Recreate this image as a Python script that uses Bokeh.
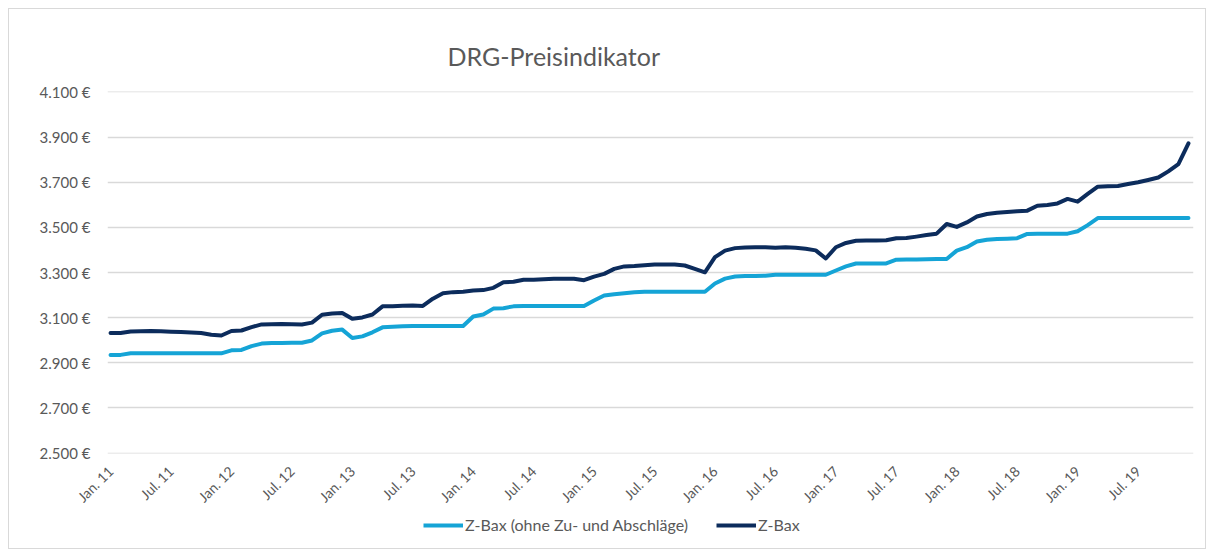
import numpy as np
from bokeh.plotting import figure
from bokeh.layouts import column
from bokeh.models import Range1d, FixedTicker, Legend, LegendItem
from bokeh.embed import file_html
from bokeh.resources import INLINE

# ---------------- data ----------------
title_text = "DRG-Preisindikator"
series_names = ["Z-Bax (ohne Zu- und Abschläge)", "Z-Bax"]

tick_labels = ["Jan. 11", "Jul. 11", "Jan. 12", "Jul. 12", "Jan. 13", "Jul. 13",
               "Jan. 14", "Jul. 14", "Jan. 15", "Jul. 15", "Jan. 16", "Jul. 16",
               "Jan. 17", "Jul. 17", "Jan. 18", "Jul. 18", "Jan. 19", "Jul. 19"]

y_ticks = [2500, 2700, 2900, 3100, 3300, 3500, 3700, 3900, 4100]
y_tick_labels = ["2.500 €", "2.700 €", "2.900 €", "3.100 €", "3.300 €",
                 "3.500 €", "3.700 €", "3.900 €", "4.100 €"]

# monthly values Jan 2011 .. Dec 2019
zbax_ohne = [
    2935, 2935, 2942, 2942, 2942, 2942, 2942, 2942, 2942, 2942, 2942, 2942,   # 2011
    2955, 2957, 2974, 2985, 2988, 2988, 2989, 2989, 2999, 3030, 3042, 3047,   # 2012
    3010, 3017, 3035, 3057, 3060, 3062, 3063, 3063, 3063, 3063, 3063, 3063,   # 2013
    3105, 3114, 3140, 3142, 3150, 3152, 3152, 3152, 3152, 3152, 3152, 3152,   # 2014
    3176, 3198, 3204, 3208, 3212, 3215, 3215, 3215, 3215, 3215, 3215, 3215,   # 2015
    3251, 3273, 3282, 3284, 3284, 3286, 3290, 3290, 3290, 3290, 3290, 3290,   # 2016
    3309, 3327, 3340, 3340, 3340, 3340, 3357, 3358, 3358, 3359, 3360, 3360,   # 2017
    3397, 3412, 3437, 3445, 3448, 3450, 3452, 3471, 3472, 3472, 3472, 3472,   # 2018
    3483, 3510, 3541, 3541, 3541, 3541, 3541, 3541, 3541, 3541, 3541, 3541,   # 2019
]

zbax = [
    3032, 3032, 3039, 3040, 3041, 3040, 3038, 3036, 3034, 3032, 3024, 3021,   # 2011
    3041, 3043, 3058, 3070, 3071, 3072, 3071, 3070, 3078, 3113, 3118, 3121,   # 2012
    3095, 3101, 3114, 3150, 3151, 3153, 3154, 3152, 3184, 3208, 3213, 3215,   # 2013
    3220, 3222, 3232, 3257, 3259, 3268, 3268, 3270, 3272, 3272, 3272, 3266,   # 2014
    3282, 3294, 3316, 3327, 3329, 3332, 3335, 3336, 3335, 3331, 3316, 3301,   # 2015
    3368, 3397, 3408, 3411, 3412, 3412, 3410, 3412, 3410, 3405, 3398, 3362,   # 2016
    3412, 3431, 3441, 3442, 3442, 3443, 3452, 3453, 3459, 3466, 3472, 3515,   # 2017
    3502, 3522, 3548, 3559, 3565, 3568, 3571, 3574, 3596, 3599, 3606, 3626,   # 2018
    3614, 3648, 3680, 3682, 3683, 3692, 3700, 3710, 3721, 3748, 3780, 3872,   # 2019
]

# ---------------- styling ----------------
FONT = "Lato"
TEXT_COLOR = "#595959"
GRID_COLOR = "#d9d9d9"
LIGHT = "#15a4d6"
DARK = "#0c2c5c"
W = 1196

months = list(range(len(zbax)))
tick_positions = [i * 6 for i in range(len(tick_labels))]

# ---------------- main chart ----------------
p = figure(width=W, height=505, output_backend="svg", toolbar_location=None,
           x_range=Range1d(-0.3, 107.5), y_range=Range1d(2498, 4102),
           min_border_left=98, min_border_right=12, min_border_top=82,
           min_border_bottom=61)
p.outline_line_color = None
p.background_fill_color = "white"
p.border_fill_color = "white"

p.title.text = title_text
p.title.align = "left"
p.title.offset = 340
p.title.standoff = 41
p.title.text_font = FONT
p.title.text_font_size = "25px"
p.title.text_font_style = "normal"
p.title.text_color = TEXT_COLOR

p.yaxis.ticker = FixedTicker(ticks=y_ticks)
p.yaxis.major_label_overrides = {t: lab for t, lab in zip(y_ticks, y_tick_labels)}
p.yaxis.axis_line_color = None
p.yaxis.major_tick_line_color = None
p.yaxis.minor_tick_line_color = None
p.yaxis.major_label_standoff = 11
p.yaxis.major_label_text_font = FONT
p.yaxis.major_label_text_font_size = "15px"
p.yaxis.major_label_text_color = TEXT_COLOR

p.xaxis.ticker = FixedTicker(ticks=tick_positions)
p.xaxis.major_label_overrides = {t: lab for t, lab in zip(tick_positions, tick_labels)}
p.xaxis.major_label_orientation = np.pi / 4
p.xaxis.axis_line_color = None
p.xaxis.major_tick_line_color = None
p.xaxis.minor_tick_line_color = None
p.xaxis.major_label_standoff = 9
p.xaxis.major_label_text_font = FONT
p.xaxis.major_label_text_font_size = "14px"
p.xaxis.major_label_text_color = TEXT_COLOR

p.xgrid.grid_line_color = None
p.ygrid.grid_line_color = GRID_COLOR
p.ygrid.grid_line_width = 1.5

p.line(months, zbax_ohne, line_color=LIGHT, line_width=4, line_join="round", line_cap="round")
p.line(months, zbax, line_color=DARK, line_width=4, line_join="round", line_cap="round")

# ---------------- legend strip ----------------
p2 = figure(width=W, height=34, output_backend="svg", toolbar_location=None,
            x_range=Range1d(0, 1), y_range=Range1d(0, 1),
            x_axis_location=None, y_axis_location=None,
            min_border_left=0, min_border_right=0, min_border_top=0, min_border_bottom=0)
p2.grid.visible = False
p2.outline_line_color = None
p2.background_fill_color = "white"
p2.border_fill_color = "white"
# key glyphs only (their points lie outside the strip's visible range)
k1 = p2.line([5, 6], [5, 6], line_color=LIGHT, line_width=4)
k2 = p2.line([5, 6], [5, 6], line_color=DARK, line_width=4)
legend = Legend(items=[LegendItem(label=series_names[0], renderers=[k1]),
                       LegendItem(label=series_names[1], renderers=[k2])],
                orientation="horizontal", location=(316, 14),
                glyph_width=40, glyph_height=16, label_standoff=2, spacing=28,
                padding=0, margin=0, border_line_color=None, background_fill_alpha=0,
                label_text_font=FONT, label_text_font_size="16px",
                label_text_color=TEXT_COLOR)
p2.add_layout(legend)

layout = column(p, p2, spacing=0,
                styles={"outline": "1px solid #d9d9d9", "margin-left": "9px", "margin-top": "9px"})

open("out.html", "w").write(file_html(layout, INLINE))
